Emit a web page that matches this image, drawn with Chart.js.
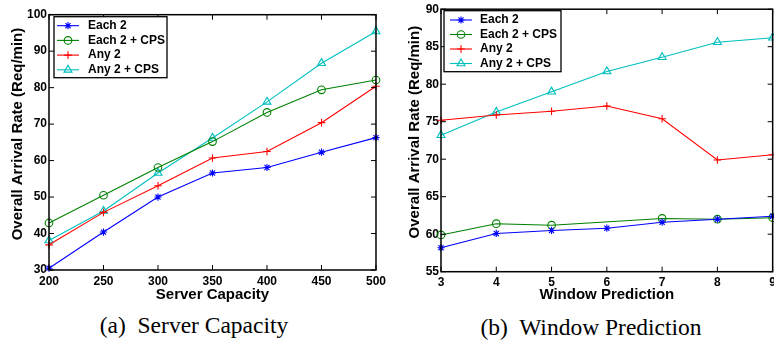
<!DOCTYPE html>
<html>
<head>
<meta charset="utf-8">
<script src="https://cdn.jsdelivr.net/npm/chart.js"></script>
<style>
body { margin:0; width:774px; height:346px; overflow:hidden; background:#fff; position:relative; }
.box { position:absolute; top:0; width:390px; height:310px; }
.cap { position:absolute; width:260px; font-family:"Liberation Serif","Times New Roman",serif; font-size:23.5px; line-height:26px; text-align:center; white-space:pre; color:#000; }
</style>
</head>
<body>
<div class="box" style="left:0"><canvas id="capacity"></canvas></div>
<div class="box" style="left:390px"><canvas id="window"></canvas></div>
<div class="cap" style="left:64px;top:312px">(a)  Server Capacity</div>
<div class="cap" style="left:461px;top:314px">(b)  Window Prediction</div>
<script>
// (a) server capacity
var capacity = [200, 250, 300, 350, 400, 450, 500];
var capEach2 = [30.5, 40.4, 50.0, 56.6, 58.1, 62.3, 66.3];
var capEach2Cps = [42.9, 50.5, 58.1, 65.2, 73.2, 79.4, 82.1];
var capAny2 = [36.9, 45.8, 53.1, 60.7, 62.5, 70.4, 80.4];
var capAny2Cps = [38.1, 46.2, 56.6, 66.2, 76.1, 86.7, 95.4];
var capYTicks = [30, 40, 50, 60, 70, 80, 90, 100];

// (b) window prediction (no marker for Each 2 + CPS at 6)
var windowSize = [3, 4, 5, 6, 7, 8, 9];
var winEach2 = [58.2, 60.1, 60.5, 60.8, 61.6, 62.0, 62.4];
var winEach2Cps = [59.9, 61.4, 61.2, null, 62.1, 62.0, 62.2];
var winAny2 = [75.2, 75.9, 76.4, 77.1, 75.4, 69.9, 70.6];
var winAny2Cps = [73.2, 76.3, 79.0, 81.7, 83.6, 85.6, 86.2];
var winYTicks = [55, 60, 65, 70, 75, 80, 85, 90];

var seriesNames = ['Each 2', 'Each 2 + CPS', 'Any 2', 'Any 2 + CPS'];
var seriesColors = ['#0000ff', '#008000', '#ff0000', '#00bfbf'];
var seriesMarks = ['star', 'circle', 'cross', 'triangle'];
var markSizes = [3.6, 3.8, 3.8, 4.6];

Chart.defaults.font.family = '"Liberation Sans", Arial, sans-serif';
Chart.defaults.color = '#000';

function makeSets(xs, lists) {
  return lists.map(function (list, i) {
    return {
      label: seriesNames[i],
      data: list.map(function (v, k) { return { x: xs[k], y: v }; }),
      borderColor: seriesColors[i],
      backgroundColor: 'rgba(0,0,0,0)',
      borderWidth: 1.1,
      pointStyle: seriesMarks[i],
      pointRadius: markSizes[i],
      pointBorderColor: seriesColors[i],
      pointBorderWidth: 1.1,
      pointBackgroundColor: 'rgba(0,0,0,0)',
      spanGaps: true,
      clip: false,
      tension: 0
    };
  });
}

function setTicks(list) {
  return function (scale) {
    scale.ticks = list.map(function (v) { return { value: v }; });
  };
}

// box, inward ticks and legend drawn on the plot like matlab does
var frame = {
  id: 'frame',
  afterDraw: function (chart, args, opts) {
    var ctx = chart.ctx, a = chart.chartArea;
    var xs = chart.scales.x, ys = chart.scales.y;
    ctx.save();
    ctx.strokeStyle = '#000';
    ctx.lineWidth = 1;
    ctx.beginPath();
    xs.ticks.forEach(function (t) {
      var p = xs.getPixelForValue(t.value);
      ctx.moveTo(p, a.bottom); ctx.lineTo(p, a.bottom - 5);
      ctx.moveTo(p, a.top); ctx.lineTo(p, a.top + 5);
    });
    ys.ticks.forEach(function (t) {
      var p = ys.getPixelForValue(t.value);
      ctx.moveTo(a.left, p); ctx.lineTo(a.left + 5, p);
      ctx.moveTo(a.right, p); ctx.lineTo(a.right - 5, p);
    });
    ctx.stroke();
    ctx.lineWidth = 1.5;
    ctx.strokeRect(a.left, a.top, a.right - a.left, a.bottom - a.top);

    var L = opts;
    ctx.fillStyle = '#fff';
    ctx.fillRect(L.x, L.y, L.w, L.h);
    ctx.lineWidth = 1.3;
    ctx.strokeStyle = '#000';
    ctx.strokeRect(L.x, L.y, L.w, L.h);
    ctx.font = 'bold 12px "Liberation Sans", Arial, sans-serif';
    ctx.textBaseline = 'middle';
    chart.data.datasets.forEach(function (ds, i) {
      var y = L.y + L.first + i * L.step;
      ctx.strokeStyle = ds.borderColor;
      ctx.lineWidth = ds.borderWidth;
      ctx.beginPath();
      ctx.moveTo(L.x + L.line0, y);
      ctx.lineTo(L.x + L.line1, y);
      ctx.stroke();
      ctx.fillStyle = 'rgba(0,0,0,0)';
      Chart.helpers.drawPoint(ctx, { pointStyle: ds.pointStyle, radius: ds.pointRadius, borderWidth: ds.pointBorderWidth, rotation: 0 }, L.x + L.mark, y);
      ctx.fillStyle = '#000';
      ctx.fillText(ds.label, L.x + L.text, y);
    });
    ctx.restore();
  }
};

function axes(xTitle, xTicks, yTicks, yWidth, yTitlePad, xHeight) {
  var tickFont = { size: 12, weight: 'bold' };
  var titleFont = { size: 15, weight: 'bold' };
  return {
    x: {
      type: 'linear',
      min: xTicks[0], max: xTicks[xTicks.length - 1],
      afterBuildTicks: setTicks(xTicks),
      grid: { display: false, drawTicks: false, tickLength: 0 },
      border: { display: false },
      ticks: { font: tickFont, padding: 4, maxRotation: 0, autoSkip: false },
      title: { display: true, text: xTitle, font: titleFont, padding: { top: 0, bottom: 6 } },
      afterFit: function (s) { s.height = xHeight; }
    },
    y: {
      min: yTicks[0], max: yTicks[yTicks.length - 1],
      afterBuildTicks: setTicks(yTicks),
      grid: { display: false, drawTicks: false, tickLength: 0 },
      border: { display: false },
      ticks: { font: tickFont, padding: 2, autoSkip: false },
      title: { display: true, text: '    Overall Arrival Rate (Req/min)', font: titleFont, padding: { top: yTitlePad, bottom: 0 } },
      afterFit: function (s) { s.width = yWidth; }
    }
  };
}

new Chart(document.getElementById('capacity'), {
  type: 'line',
  data: { datasets: makeSets(capacity, [capEach2, capEach2Cps, capAny2, capAny2Cps]) },
  options: {
    responsive: true,
    maintainAspectRatio: false,
    animation: false,
    layout: { padding: { left: 0, right: 12, top: 14.7, bottom: 0 } },
    plugins: {
      legend: { display: false },
      tooltip: { enabled: false },
      frame: { x: 54, y: 16.7, w: 113, h: 61, first: 9, step: 14.7, line0: 3, line1: 25, mark: 14, text: 34 }
    },
    scales: axes('Server Capacity', capacity, capYTicks, 49, 8.5, 40)
  },
  plugins: [frame]
});

new Chart(document.getElementById('window'), {
  type: 'line',
  data: { datasets: makeSets(windowSize, [winEach2, winEach2Cps, winAny2, winAny2Cps]) },
  options: {
    responsive: true,
    maintainAspectRatio: false,
    animation: false,
    layout: { padding: { left: 0, right: 7, top: 7.3, bottom: 0 } },
    plugins: {
      legend: { display: false },
      tooltip: { enabled: false },
      frame: { x: 54, y: 10.7, w: 117, h: 61, first: 9.3, step: 14.5, line0: 6, line1: 28, mark: 17, text: 36 }
    },
    scales: axes('Window Prediction', windowSize, winYTicks, 51, 16, 38.3)
  },
  plugins: [frame]
});
</script>
</body>
</html>
